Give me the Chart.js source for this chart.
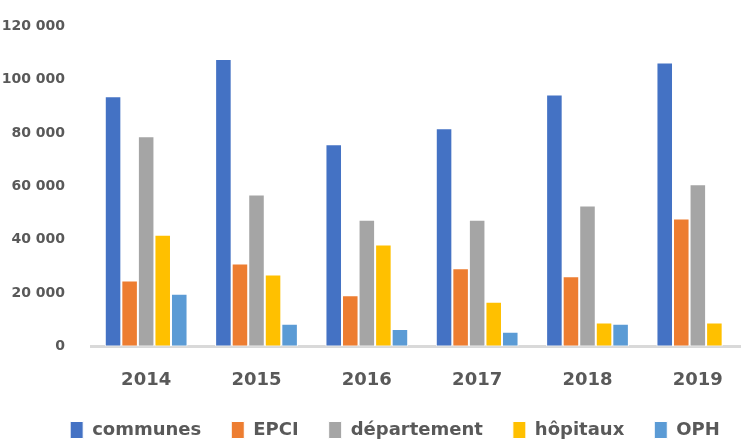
<!DOCTYPE html>
<html>
<head>
<meta charset="utf-8">
<script src="https://cdn.jsdelivr.net/npm/chart.js@4/dist/chart.umd.min.js"></script>
<style>
  html, body { margin: 0; padding: 0; background: #fff; overflow: hidden; }
  #wrap { width: 741px; height: 439px; overflow: hidden; }
  #box { width: 790px; height: 439px; }
</style>
</head>
<body>
<div id="wrap"><div id="box"><canvas id="chart"></canvas></div></div>
<script>
const years = ["2014", "2015", "2016", "2017", "2018", "2019"];
const communes = [93800, 107800, 75800, 81800, 94500, 106500];
const epci = [24700, 31100, 19200, 29300, 26300, 48000];
const departement = [78800, 57000, 47500, 47500, 52900, 60800];
const hopitaux = [41900, 27000, 38200, 16800, 9000, 9000];
const oph = [19800, 8500, 6600, 5500, 8500, 0];
const seriesNames = ["communes", "EPCI", "département", "hôpitaux", "OPH"];
const seriesColors = ["#4472C4", "#ED7D31", "#A5A5A5", "#FFC000", "#5B9BD5"];

const font = "'DejaVu Sans', sans-serif";
const textColor = "#595959";

const canvas = document.getElementById("chart");
const ctx = canvas.getContext("2d");

const values = [communes, epci, departement, hopitaux, oph];

// keep the legend a fixed height so the plot bottom lands where it should
const legendHeight = {
  id: "legendHeight",
  beforeInit(chart) {
    const fit = chart.legend.fit;
    chart.legend.fit = function () {
      fit.call(this);
      this.height = 48;
    };
  },
};

new Chart(ctx, {
  type: "bar",
  data: {
    labels: years,
    datasets: values.map((data, i) => ({
      label: seriesNames[i],
      data: data,
      backgroundColor: seriesColors[i],
      borderColor: "#ffffff",
      borderWidth: 1,
      borderSkipped: false,
      categoryPercentage: 0.75,
      barPercentage: 1,
    })),
  },
  options: {
    responsive: true,
    maintainAspectRatio: false,
    animation: false,
    layout: { padding: { top: 23, bottom: 0, left: 0, right: 0 } },
    plugins: {
      legend: {
        position: "bottom",
        labels: {
          font: { family: font, size: 18, weight: "bold" },
          color: textColor,
          boxWidth: 13,
          boxHeight: 17,
          padding: 30,
        },
      },
      tooltip: { enabled: false },
    },
    scales: {
      x: {
        grid: { display: false },
        border: { display: true, color: "#d9d9d9", width: 3 },
        ticks: {
          color: textColor,
          font: { family: font, size: 18, weight: "bold" },
          padding: 15,
        },
        afterFit(scale) {
          scale.height = 44.5;
        },
      },
      y: {
        min: 0,
        max: 120000,
        grid: { display: false },
        border: { display: false },
        ticks: {
          stepSize: 20000,
          color: textColor,
          font: { family: font, size: 14, weight: "bold" },
          padding: 18,
          callback: (value) => String(value).replace(/\B(?=(\d{3})+(?!\d))/g, " "),
        },
        afterFit(scale) {
          scale.width = 91;
        },
      },
      y2: {
        position: "right",
        display: true,
        grid: { display: false },
        border: { display: false },
        ticks: { display: false },
        afterFit(scale) {
          scale.width = 37;
        },
      },
    },
  },
  plugins: [legendHeight],
});
</script>
</body>
</html>
